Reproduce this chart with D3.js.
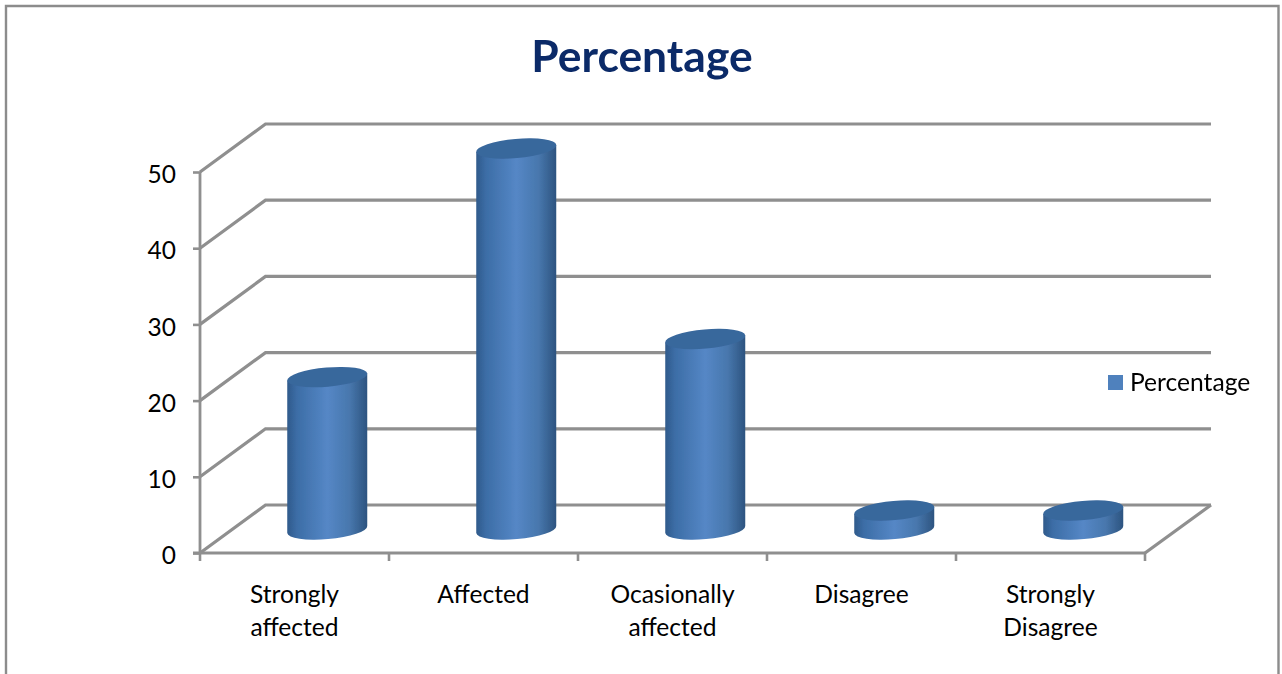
<!DOCTYPE html>
<html>
<head>
<meta charset="utf-8">
<script src="https://cdn.jsdelivr.net/npm/d3@7"></script>
<style>
html,body{margin:0;padding:0;background:#fff;overflow:hidden}
svg{display:block}
text{font-family:Lato,"Open Sans",sans-serif}
</style>
</head>
<body>
<svg id="chart" width="1282" height="674"></svg>
<script>
const chartTitle = "Percentage";
const seriesName = "Percentage";
const categories = [["Strongly","affected"],["Affected"],["Ocasionally","affected"],["Disagree"],["Strongly","Disagree"]];
const values = [20, 50, 25, 2.5, 2.5];
const yTicks = [0, 10, 20, 30, 40, 50];

const svg = d3.select("#chart");
const W = 1282, H = 674;
const gray = "#8f8f8f";

// Floor of the 3D box: the back wall sits up and to the right of the front edge
const depth = {x: 65.5, y: -48};
const y = d3.scaleLinear().domain([0, 50]).range([553, 172]);
const x = d3.scaleBand().domain(d3.range(categories.length)).range([200, 1145]);
const plotRight = 1145;

// Chart frame: open along the bottom edge
svg.append("path")
  .attr("d", `M6,${H}V6H1278.5V${H}`)
  .attr("fill", "none").attr("stroke", "#8c8c8c").attr("stroke-width", 2.4);

// Shaft shading for the cylinders
const defs = svg.append("defs");
const grad = defs.append("linearGradient").attr("id", "shaft");
[[0,"#2f5a8b"],[0.12,"#3c6da6"],[0.5,"#5587c6"],[0.78,"#4877ad"],[0.93,"#355f8e"],[1,"#2d5480"]]
  .forEach(([o,c]) => grad.append("stop").attr("offset", o).attr("stop-color", c));
const blurF = defs.append("filter").attr("id", "soft").attr("x","-5%").attr("y","-5%").attr("width","110%").attr("height","110%");
blurF.append("feGaussianBlur").attr("stdDeviation", 0.6);

// Gridlines: along the back wall, then down the side wall to the value axis
const grid = svg.append("g").attr("fill", "none").attr("stroke", gray).attr("stroke-width", 3.2).attr("filter","url(#soft)");
grid.selectAll("path.grid").data(yTicks).join("path").attr("class", "grid")
  .attr("d", t => `M${x.range()[0]},${y(t)}L${x.range()[0]+depth.x},${y(t)+depth.y}H${plotRight+depth.x+0.5}`);
grid.append("path")
  .attr("d", `M${plotRight},${y(0)}L${plotRight+depth.x+0.5},${y(0)+depth.y}`);

// Value axis
const yAxis = d3.axisLeft(y).tickValues(yTicks).tickSize(7).tickPadding(17);
const yG = svg.append("g").attr("transform", `translate(${x.range()[0]},0)`).call(yAxis);
yG.select(".domain").attr("stroke", gray).attr("stroke-width", 2.8).attr("d", `M0,${y(50)}V${y(0)}`);
yG.selectAll(".tick line").attr("stroke", gray).attr("stroke-width", 2.6);
yG.selectAll(".tick text").attr("font-size", 24.5).attr("fill", "#000").attr("dy", "0.44em").style("font-family","Lato,sans-serif");

// Category axis
const edges = d3.range(categories.length + 1).map(i => x.range()[0] + i * x.step());
const xG = svg.append("g");
xG.append("line").attr("x1", x.range()[0]-7).attr("x2", plotRight).attr("y1", y(0)).attr("y2", y(0))
  .attr("stroke", gray).attr("stroke-width", 3);
xG.selectAll("line.t").data(edges).join("line").attr("class", "t")
  .attr("x1", d => d).attr("x2", d => d).attr("y1", y(0)).attr("y2", y(0)+8)
  .attr("stroke", gray).attr("stroke-width", 2.6);

const labels = xG.selectAll("text").data(categories).join("text")
  .attr("text-anchor", "middle").attr("font-size", 24.6).attr("fill", "#000");
labels.each(function(lines, i) {
  d3.select(this).selectAll("tspan").data(lines).join("tspan")
    .attr("x", x(i) + x.bandwidth()/2)
    .attr("y", (_, k) => 603 + k * 33)
    .text(d => d);
});

// Tilted cylinders standing halfway back on the floor
const rx = 40, ry = 9.6, rot = -5, tiltY = 3.5;
const cyl = svg.append("g").attr("filter","url(#soft)").selectAll("g").data(values).join("g");
cyl.each(function(v, i) {
  const cx = x(i) + x.bandwidth()/2 + depth.x/2;
  const by = y(0) + depth.y/2 + 0.5;
  const ty = by - (y(0) - y(v));
  const g = d3.select(this);
  g.append("path").attr("fill", "url(#shaft)")
    .attr("d", `M${cx-rx},${ty+tiltY}L${cx-rx},${by+tiltY}` +
               `A${rx},${ry} ${rot} 0 0 ${cx+rx},${by-tiltY}` +
               `L${cx+rx},${ty-tiltY}Z`);
  g.append("ellipse").attr("fill", "#39679c")
    .attr("rx", rx + 0.2).attr("ry", ry)
    .attr("transform", `translate(${cx},${ty}) rotate(${rot})`);
});

// Title
svg.append("text").attr("x", 642).attr("y", 72).attr("text-anchor", "middle")
  .attr("font-size", 44.4).attr("font-weight", 700).attr("fill", "#0b2a68").text(chartTitle);

// Legend
svg.append("rect").attr("x", 1108).attr("y", 375).attr("width", 15).attr("height", 15).attr("fill", "#4f81bd");
svg.append("text").attr("x", 1130).attr("y", 391).attr("font-size", 24.6).attr("fill", "#000").text(seriesName);
</script>
</body>
</html>
